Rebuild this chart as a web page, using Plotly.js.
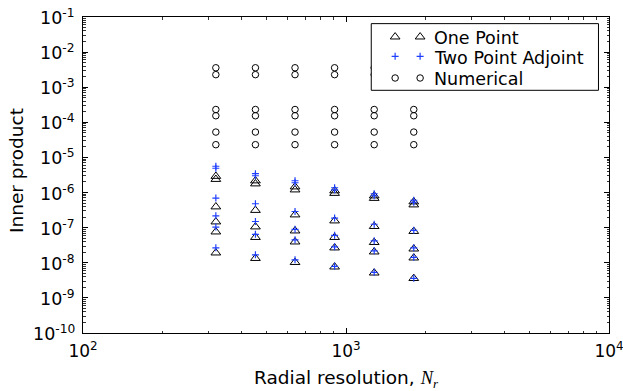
<!DOCTYPE html>
<html>
<head>
<meta charset="utf-8">
<script src="https://cdn.plot.ly/plotly-3.0.1.min.js"></script>
<style>
  html, body { margin: 0; padding: 0; background: #ffffff; }
  #chart { width: 623px; height: 391px; }
</style>
</head>
<body>
<div id="chart"></div>
<script>
// Radial resolutions N_r used in the convergence study
const radialResolution = [320, 452.5, 640, 905, 1280, 1810];

// Inner product per case (rows), one value per radial resolution (columns)
const onePoint = [
  [2.92e-6, 2.17e-6, 1.46e-6, 1.13e-6, 8.10e-7, 5.47e-7],
  [2.39e-6, 1.78e-6, 1.20e-6, 9.55e-7, 6.88e-7, 4.49e-7],
  [3.94e-7, 3.13e-7, 2.33e-7, 1.57e-7, 1.09e-7, 7.87e-8],
  [1.47e-7, 1.06e-7, 8.13e-8, 5.31e-8, 3.82e-8, 2.49e-8],
  [7.62e-8, 5.31e-8, 3.95e-8, 2.67e-8, 2.05e-8, 1.38e-8],
  [1.92e-8, 1.34e-8, 1.03e-8, 7.65e-9, 5.15e-9, 3.60e-9]
];

const twoPointAdjoint = [
  [5.62e-6, 3.44e-6, 2.17e-6, 1.37e-6, 9.24e-7, 6.03e-7],
  [4.93e-6, 3.01e-6, 1.90e-6, 1.20e-6, 8.10e-7, 5.29e-7],
  [6.97e-7, 4.80e-7, 2.89e-7, 1.87e-7, 1.25e-7, 8.41e-8],
  [2.18e-7, 1.50e-7, 8.98e-8, 6.05e-8, 4.22e-8, 2.67e-8],
  [1.04e-7, 6.47e-8, 4.51e-8, 2.84e-8, 2.19e-8, 1.43e-8],
  [2.67e-8, 1.68e-8, 1.21e-8, 7.91e-9, 5.33e-9, 3.60e-9]
];

const numerical = [
  [3.58e-3, 3.58e-3, 3.58e-3, 3.58e-3, 3.58e-3, 3.58e-3],
  [2.28e-3, 2.28e-3, 2.28e-3, 2.28e-3, 2.28e-3, 2.28e-3],
  [2.32e-4, 2.32e-4, 2.32e-4, 2.32e-4, 2.32e-4, 2.32e-4],
  [1.54e-4, 1.54e-4, 1.54e-4, 1.54e-4, 1.54e-4, 1.54e-4],
  [5.28e-5, 5.28e-5, 5.28e-5, 5.28e-5, 5.28e-5, 5.28e-5],
  [2.31e-5, 2.31e-5, 2.31e-5, 2.31e-5, 2.31e-5, 2.31e-5]
];

const seriesNames = ['One Point', 'Two Point Adjoint', 'Numerical'];

const xTickVals = [1e2, 1e3, 1e4];
const xTickText = ['10<sup>2</sup>', '10<sup>3</sup>', '10<sup>4</sup>'];
const yTickVals = [1e-1, 1e-2, 1e-3, 1e-4, 1e-5, 1e-6, 1e-7, 1e-8, 1e-9, 1e-10];
const yTickText = ['10<sup>-1</sup>', '10<sup>-2</sup>', '10<sup>-3</sup>', '10<sup>-4</sup>',
                   '10<sup>-5</sup>', '10<sup>-6</sup>', '10<sup>-7</sup>', '10<sup>-8</sup>',
                   '10<sup>-9</sup>', '10<sup>-10</sup>'];

const FONT = 'DejaVu Sans, Verdana, sans-serif';

// marker styles for the three series
const markerStyles = [
  { symbol: 'triangle-up-open', size: 8.5, color: '#000000', line: { width: 1, color: '#000000' } },
  { symbol: 'cross-thin-open', size: 5, color: '#1f3fff', line: { width: 1.2, color: '#1f3fff' } },
  { symbol: 'circle-open', size: 6.5, color: '#000000', line: { width: 1, color: '#000000' } }
];

// flatten case x resolution tables into point lists
function flatten(table) {
  const xs = [], ys = [];
  table.forEach(row => row.forEach((v, i) => { xs.push(radialResolution[i]); ys.push(v); }));
  return { x: xs, y: ys };
}

const tables = [onePoint, twoPointAdjoint, numerical];
const traces = tables.map((t, k) => {
  const p = flatten(t);
  return {
    type: 'scatter', mode: 'markers', name: seriesNames[k],
    x: p.x, y: p.y, marker: markerStyles[k],
    showlegend: false, hoverinfo: 'x+y+name', cliponaxis: false
  };
});

// legend drawn on an overlay axis pair spanning [0,1] in both directions
const legendBox = { x0: 0.548, x1: 0.980, y0: 0.768, y1: 0.979 };
const legendCols = [0.5934, 0.6409];
const legendRows = [0.9372, 0.8755, 0.8070];
const legendTextX = 0.663;

traces.push({
  type: 'scatter', mode: 'lines', xaxis: 'x2', yaxis: 'y2',
  x: [legendBox.x0, legendBox.x1, legendBox.x1, legendBox.x0, legendBox.x0],
  y: [legendBox.y0, legendBox.y0, legendBox.y1, legendBox.y1, legendBox.y0],
  fill: 'toself', fillcolor: '#ffffff', line: { color: '#000000', width: 1 },
  hoverinfo: 'skip', showlegend: false
});
seriesNames.forEach((name, k) => {
  traces.push({
    type: 'scatter', mode: 'markers', xaxis: 'x2', yaxis: 'y2',
    x: legendCols, y: [legendRows[k], legendRows[k]],
    marker: markerStyles[k], hoverinfo: 'skip', showlegend: false
  });
});

const annotations = seriesNames.map((name, k) => ({
  xref: 'paper', yref: 'paper', x: legendTextX, y: legendRows[k] - 0.004,
  xanchor: 'left', yanchor: 'middle', showarrow: false, text: name,
  font: { family: FONT, size: 17.5, color: '#000000' }
}));

// y tick labels: right-aligned next to the axis, whole label centred on its decade
yTickVals.forEach((v, i) => {
  annotations.push({
    xref: 'paper', yref: 'y', x: 0, y: Math.log10(v), xshift: -6,
    xanchor: 'right', yanchor: 'middle', showarrow: false, text: yTickText[i],
    font: { family: FONT, size: 17.5, color: '#000000' }
  });
});

// y axis title
annotations.push({
  xref: 'paper', yref: 'paper', x: 0, y: 0.5, xshift: -67, yshift: 4,
  xanchor: 'center', yanchor: 'middle', textangle: -90, showarrow: false,
  text: 'Inner product', font: { family: FONT, size: 18.5, color: '#000000' }
});

const axisCommon = {
  type: 'log', showgrid: false, zeroline: false,
  showline: true, linecolor: '#000000', linewidth: 1.3, mirror: 'ticks',
  ticks: 'inside', ticklen: 5, tickwidth: 1, tickcolor: '#000000',
  tickmode: 'array', ticklabeloverflow: 'allow',
  tickfont: { family: FONT, size: 17, color: '#000000' },
  minor: { ticks: 'inside', ticklen: 2.5, tickwidth: 0.8, tickcolor: '#000000', dtick: 'D1', showgrid: false }
};

const layout = {
  width: 623, height: 391,
  margin: { l: 83, r: 14, t: 17, b: 58 },
  paper_bgcolor: '#ffffff', plot_bgcolor: '#ffffff',
  showlegend: false,
  font: { family: FONT, color: '#000000' },
  xaxis: Object.assign({}, axisCommon, {
    range: [2, 4], tickvals: xTickVals, ticktext: xTickText,
    ticklabelstandoff: 2,
    title: {
      text: 'Radial resolution, <span style="font-family:Liberation Serif, DejaVu Serif, serif"><i>N</i><sub><i>r</i></sub></span>',
      font: { family: FONT, size: 18.5, color: '#000000' }, standoff: 14
    }
  }),
  yaxis: Object.assign({}, axisCommon, {
    range: [-10, -1], tickvals: yTickVals, showticklabels: false
  }),
  xaxis2: { overlaying: 'x', anchor: 'y2', range: [0, 1], visible: false, fixedrange: true },
  yaxis2: { overlaying: 'y', anchor: 'x2', range: [0, 1], visible: false, fixedrange: true },
  annotations: annotations
};

Plotly.newPlot('chart', traces, layout, { displayModeBar: false, staticPlot: true });
</script>
</body>
</html>
